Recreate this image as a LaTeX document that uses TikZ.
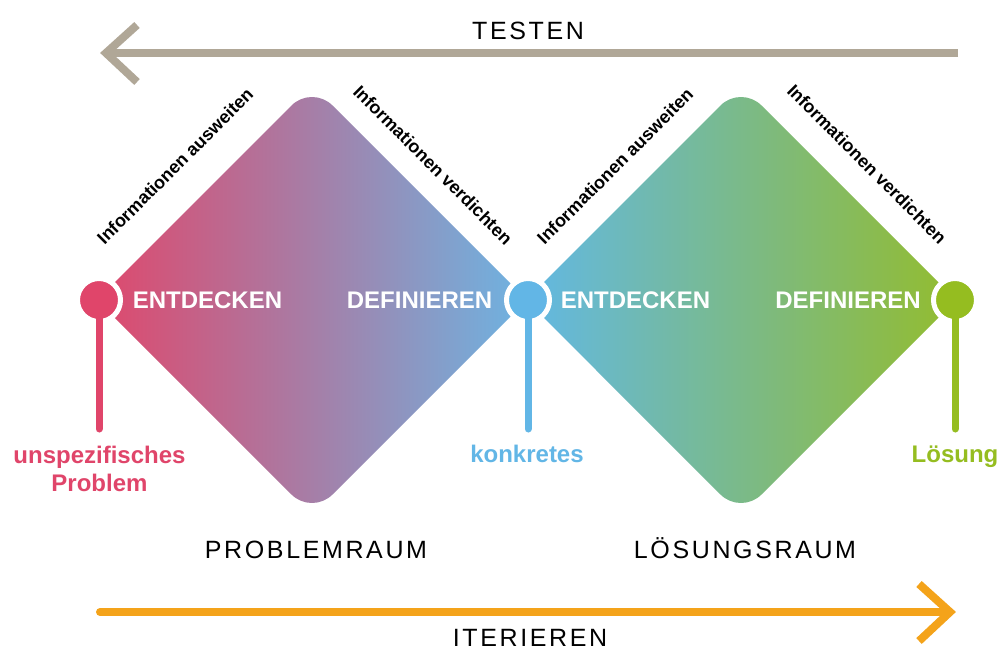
\documentclass[tikz,border=0pt]{standalone}
\usepackage{fontspec}
\setmainfont{Liberation Sans}
\definecolor{cred}{HTML}{E0456A}
\definecolor{cblue}{HTML}{62B6E6}
\definecolor{cgreen}{HTML}{95BD20}
\definecolor{dleftone}{HTML}{DF486C}
\definecolor{dmidone}{HTML}{B88FA9}
\definecolor{drightone}{HTML}{6DB4E2}
\definecolor{dlefttwo}{HTML}{62B8E4}
\definecolor{dmidtwo}{HTML}{7DB898}
\definecolor{drighttwo}{HTML}{93BC2E}
\definecolor{tgray}{HTML}{B0A797}
\definecolor{iorange}{HTML}{F4A31A}
\begin{document}
\begin{tikzpicture}[x=1pt,y=-1pt,
  dot/.style={circle,draw=white,line width=5pt,minimum size=43pt,inner sep=0pt},
  stem/.style={line width=7pt,line cap=round},
  phase/.style={text=white,font=\fontsize{24}{28}\bfseries\selectfont,inner sep=0pt,anchor=base},
  diag/.style={font=\fontsize{18}{20}\bfseries\selectfont,inner sep=0pt},
  spacelabel/.style={font=\fontsize{25}{30}\selectfont\addfontfeature{LetterSpace=10.5},inner sep=0pt,anchor=base},
  endlabel/.style={font=\fontsize{24}{28}\bfseries\selectfont,inner sep=0pt,anchor=base,align=center},
  flow/.style={line width=8pt}
]
\useasboundingbox (0,0) rectangle (999,650);
\fill[white] (0,0) rectangle (999,650);

% diamonds
\shade[left color=dleftone, middle color=dmidone, right color=drightone]
  (97,300) -- (291.5,105.5) arc[start angle=225,end angle=315,radius=29]
  -- (527,300) -- (332.5,494.5) arc[start angle=45,end angle=135,radius=29] -- cycle;
\shade[left color=dlefttwo, middle color=dmidtwo, right color=drighttwo]
  (526,300) -- (720.5,105.5) arc[start angle=225,end angle=315,radius=29]
  -- (956,300) -- (761.5,494.5) arc[start angle=45,end angle=135,radius=29] -- cycle;

% circles and stems
\node[dot,fill=cred]   (c1) at (99,300) {};
\node[dot,fill=cblue]  (c2) at (528,300) {};
\node[dot,fill=cgreen] (c3) at (955,300) {};
\coordinate (s1) at (99,429);
\coordinate (s2) at (528,429);
\coordinate (s3) at (955,429);
\draw[stem,cred]   (c1.center) -- (s1);
\draw[stem,cblue]  (c2.center) -- (s2);
\draw[stem,cgreen] (c3.center) -- (s3);

% phase labels
\node[phase] (e1) at (207.5,308) {ENTDECKEN};
\node[phase] (d1) at (419.5,308) {DEFINIEREN};
\node[phase] (e2) at (635.5,308) {ENTDECKEN};
\node[phase] (d2) at (848,308) {DEFINIEREN};

% diagonal labels
\node[diag,rotate=45]  (a1) at (175,166) {Informationen ausweiten};
\node[diag,rotate=-45] (v1) at (433,165) {Informationen verdichten};
\node[diag,rotate=45]  (a2) at (615,166) {Informationen ausweiten};
\node[diag,rotate=-45] (v2) at (867,164) {Informationen verdichten};

% end labels
\node[endlabel,text=cred]   (l1) at (99.5,491) {unspezifisches\\Problem};
\node[endlabel,text=cblue]  (l2) at (527,462) {konkretes};
\node[endlabel,text=cgreen] (l3) at (955,462) {Lösung};

% space labels
\node[spacelabel] (tst) at (528,40) {TESTEN};
\node[spacelabel] (pr)  at (316,558) {PROBLEMRAUM};
\node[spacelabel] (lr)  at (745,558) {LÖSUNGSRAUM};
\node[spacelabel] (it)  at (530,646) {ITERIEREN};

% testen arrow
\coordinate (ts) at (958,53);
\coordinate (tt) at (106,53);
\coordinate (ta) at (137,25);
\coordinate (tb) at (137,82);
\draw[flow,tgray] (ts) -- (tt);
\draw[flow,tgray,line join=miter] (ta) -- (tt) -- (tb);

% iterieren arrow
\coordinate (is) at (100,612);
\coordinate (ie) at (950,612);
\coordinate (ia) at (919,584);
\coordinate (ib) at (919,641);
\draw[flow,iorange,line cap=round] (is) -- (ie);
\draw[flow,iorange,line join=miter] (ia) -- (ie) -- (ib);
\end{tikzpicture}
\end{document}
